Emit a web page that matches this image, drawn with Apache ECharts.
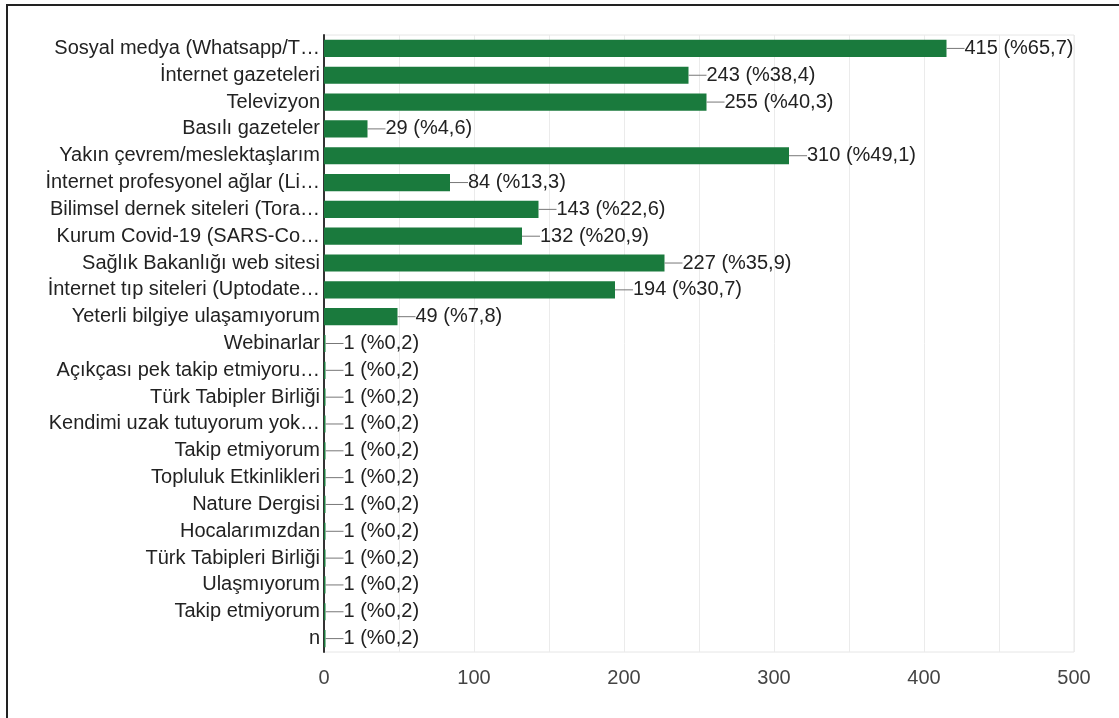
<!DOCTYPE html>
<html>
<head>
<meta charset="utf-8">
<script src="https://cdn.jsdelivr.net/npm/echarts@6/dist/echarts.min.js"></script>
<style>
  html, body { margin: 0; padding: 0; background: #fff; }
  #frame {
    position: absolute; left: 6px; top: 4px; width: 1113px; height: 714px;
    border-left: 2px solid #222; border-top: 2px solid #222;
  }
  #chart { position: absolute; left: 0; top: 0; width: 1119px; height: 718px; }
</style>
</head>
<body>
<div id="frame"></div>
<div id="chart"></div>
<script>
// yanıt seçenekleri (yukarıdan aşağıya)
var categories = [
  'Sosyal medya (Whatsapp/T…',
  'İnternet gazeteleri',
  'Televizyon',
  'Basılı gazeteler',
  'Yakın çevrem/meslektaşlarım',
  'İnternet profesyonel ağlar (Li…',
  'Bilimsel dernek siteleri (Tora…',
  'Kurum Covid-19 (SARS-Co…',
  'Sağlık Bakanlığı web sitesi',
  'İnternet tıp siteleri (Uptodate…',
  'Yeterli bilgiye ulaşamıyorum',
  'Webinarlar',
  'Açıkçası pek takip etmiyoru…',
  'Türk Tabipler Birliği',
  'Kendimi uzak tutuyorum yok…',
  'Takip etmiyorum',
  'Topluluk Etkinlikleri',
  'Nature Dergisi',
  'Hocalarımızdan',
  'Türk Tabipleri Birliği',
  'Ulaşmıyorum',
  'Takip etmiyorum',
  'n'
];
var counts = [415, 243, 255, 29, 310, 84, 143, 132, 227, 194, 49, 1, 1, 1, 1, 1, 1, 1, 1, 1, 1, 1, 1];
var percents = ['65,7', '38,4', '40,3', '4,6', '49,1', '13,3', '22,6', '20,9', '35,9', '30,7', '7,8',
  '0,2', '0,2', '0,2', '0,2', '0,2', '0,2', '0,2', '0,2', '0,2', '0,2', '0,2', '0,2'];
var xTicks = [0, 100, 200, 300, 400, 500];

var chart = echarts.init(document.getElementById('chart'));
var font = 'Liberation Sans, Arial, Helvetica, sans-serif';

chart.setOption({
  animation: false,
  grid: { left: 324, right: 45, top: 35, bottom: 66, show: true, borderColor: '#e6e6e6', borderWidth: 1 },
  xAxis: {
    type: 'value',
    min: xTicks[0],
    max: xTicks[xTicks.length - 1],
    interval: 50,
    axisLine: { show: false },
    axisTick: { show: false },
    splitLine: { show: true, lineStyle: { color: '#ebebeb', width: 1 } },
    axisLabel: {
      color: '#444', fontSize: 20, fontFamily: font, margin: 16,
      formatter: function (v) { return xTicks.indexOf(v) >= 0 ? String(v) : ''; }
    }
  },
  yAxis: {
    type: 'category',
    inverse: true,
    data: categories,
    axisLine: { show: true, lineStyle: { color: '#333', width: 2 } },
    axisTick: { show: false },
    axisLabel: { color: '#222', fontSize: 20, fontFamily: font, margin: 4 }
  },
  series: [{
    type: 'bar',
    data: counts,
    barCategoryGap: '36%',
    itemStyle: { color: '#1a7a3d' },
    label: {
      show: true,
      position: 'right',
      distance: 0,
      fontFamily: font,
      formatter: function (p) {
        return '{l|}{v|' + counts[p.dataIndex] + ' (%' + percents[p.dataIndex] + ')}';
      },
      rich: {
        l: { width: 18, height: 1, backgroundColor: '#777' },
        v: { color: '#222', fontSize: 20, fontFamily: font }
      }
    }
  }]
});
</script>
</body>
</html>
